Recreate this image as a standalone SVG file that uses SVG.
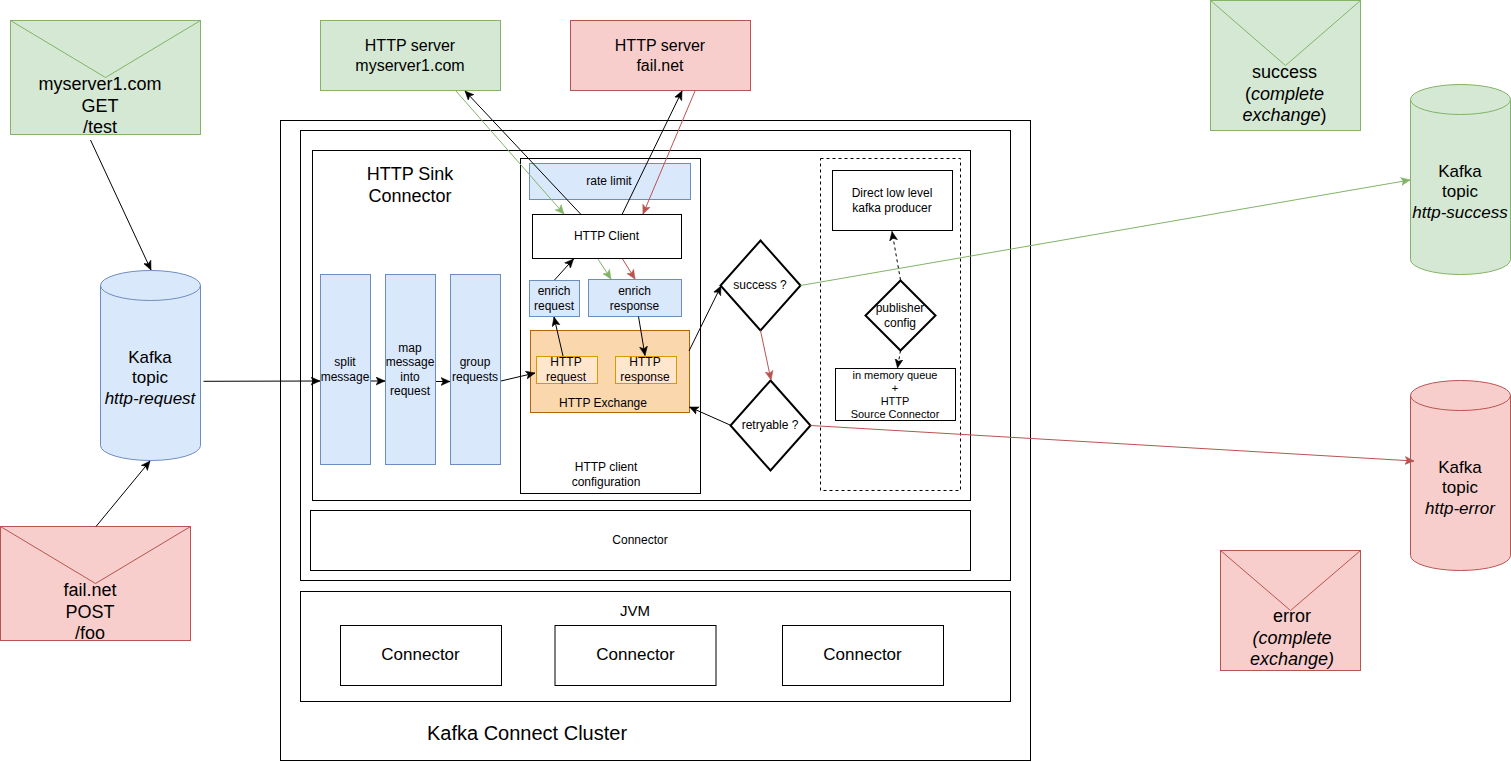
<svg xmlns="http://www.w3.org/2000/svg" width="1511" height="762" viewBox="0 0 1511 762">
<style>
text{font-family:"Liberation Sans",Arial,sans-serif;fill:#000;text-anchor:middle}
.t12{font-size:12px}.t11{font-size:11px}.t16{font-size:16px}.t17{font-size:17px}.t18{font-size:18px}.t15{font-size:15px}.t20{font-size:20px}
.i{font-style:italic}
.w{fill:#fff;stroke:#000;stroke-width:1}
.g{fill:#d5e8d4;stroke:#82b366}.r{fill:#f8cecc;stroke:#b85450}.b{fill:#dae8fc;stroke:#6c8ebf}
.o{fill:#fad7ac;stroke:#b46504}.lo{fill:#ffe6cc;stroke:#d79b00}
.d{fill:#fff;stroke:#000;stroke-width:2}
.c{fill:none;stroke:#000;stroke-width:1}
.cg{fill:none;stroke:#82b366;stroke-width:1}
.cr{fill:none;stroke:#b85450;stroke-width:1}
.nf{fill:none}
</style>
<defs>
<marker id="ab" markerUnits="userSpaceOnUse" markerWidth="12" markerHeight="10" refX="9" refY="4.500" orient="auto"><path d="M0 0.500L9 4.500L0 8.500L2.200 4.500Z" fill="#000" stroke="#000" stroke-width="0.500"/></marker>
<marker id="ag" markerUnits="userSpaceOnUse" markerWidth="12" markerHeight="10" refX="9" refY="4.500" orient="auto"><path d="M0 0.500L9 4.500L0 8.500L2.200 4.500Z" fill="#82b366" stroke="#82b366" stroke-width="0.500"/></marker>
<marker id="ar" markerUnits="userSpaceOnUse" markerWidth="12" markerHeight="10" refX="9" refY="4.500" orient="auto"><path d="M0 0.500L9 4.500L0 8.500L2.200 4.500Z" fill="#b85450" stroke="#b85450" stroke-width="0.500"/></marker>
</defs>
<g id="cluster"><rect class="w" x="280.500" y="120.500" width="750" height="640"/><text class="t20" x="527" y="740">Kafka Connect Cluster</text></g>
<g id="worker"><rect class="w" x="300.500" y="130.500" width="710" height="450"/></g>
<g id="sink"><rect class="w" x="312.500" y="150.500" width="658" height="350"/><text class="t18" x="410" y="180">HTTP Sink</text><text class="t18" x="410" y="202">Connector</text></g>
<g id="connector-main"><rect class="w" x="310.500" y="510.500" width="660" height="60"/><text class="t12" x="640" y="544">Connector</text></g>
<g id="jvm"><rect class="w" x="300.500" y="591.500" width="710" height="110"/><text class="t15" x="635" y="616">JVM</text></g>
<g id="connector-1"><rect class="w" x="340.500" y="625.500" width="161" height="60"/><text class="t17" x="420.500" y="660">Connector</text></g>
<g id="connector-2"><rect class="w" x="555" y="625.500" width="161" height="60"/><text class="t17" x="635.500" y="660">Connector</text></g>
<g id="connector-3"><rect class="w" x="782.500" y="625.500" width="161" height="60"/><text class="t17" x="862.500" y="660">Connector</text></g>
<g id="http-client-config"><rect class="w" x="520.500" y="158.500" width="180" height="335"/><text class="t12" x="606" y="471">HTTP client</text><text class="t12" x="606" y="486">configuration</text></g>
<g id="rate-limit"><rect class="b" x="529.500" y="163.500" width="161" height="36"/><text class="t12" x="609" y="185">rate limit</text></g>
<g id="http-client"><rect class="w" x="532.500" y="214.500" width="149" height="44"/><text class="t12" x="606.500" y="240">HTTP Client</text></g>
<g id="enrich-request"><rect class="b" x="529.500" y="280.500" width="50" height="36"/><text class="t12" x="554" y="295">enrich</text><text class="t12" x="554" y="310">request</text></g>
<g id="enrich-response"><rect class="b" x="588.500" y="279.500" width="93" height="37"/><text class="t12" x="634.500" y="295">enrich</text><text class="t12" x="634.500" y="310">response</text></g>
<g id="http-exchange"><rect class="o" x="530.500" y="330.500" width="159" height="82"/><text class="t12" x="603" y="407">HTTP Exchange</text></g>
<g id="http-request"><rect class="lo" x="536.500" y="356.500" width="61" height="27"/><text class="t12" x="566" y="366">HTTP</text><text class="t12" x="566" y="381">request</text></g>
<g id="http-response"><rect class="lo" x="615.500" y="356.500" width="61" height="27"/><text class="t12" x="645" y="366">HTTP</text><text class="t12" x="645" y="381">response</text></g>
<g id="split"><rect class="b" x="320.500" y="274.500" width="50" height="190"/><text class="t12" x="345" y="366">split</text><text class="t12" x="345" y="381">message</text></g>
<g id="map"><rect class="b" x="385.500" y="274.500" width="50" height="190"/><text class="t12" x="410" y="352">map</text><text class="t12" x="410" y="366">message</text><text class="t12" x="410" y="381">into</text><text class="t12" x="410" y="395">request</text></g>
<g id="group"><rect class="b" x="450.500" y="274.500" width="50" height="190"/><text class="t12" x="475" y="366">group</text><text class="t12" x="475" y="381">requests</text></g>
<g id="success-q"><path class="d" d="M760.500 240.500L800.500 285.500L760.500 330.500L720.500 285.500Z"/><text class="t12" x="760" y="289">success ?</text></g>
<g id="retryable-q"><path class="d" d="M770.500 380.500L810.500 425.500L770.500 470.500L730.500 425.500Z"/><text class="t12" x="770" y="429">retryable ?</text></g>
<g id="publisher-group"><rect x="820.500" y="158.500" width="140" height="332" fill="none" stroke="#000" stroke-dasharray="3 3"/></g>
<g id="producer"><rect class="w" x="832.500" y="170.500" width="120" height="60"/><text class="t12" x="892" y="197">Direct low level</text><text class="t12" x="892" y="212">kafka producer</text></g>
<g id="publisher-config"><path class="d" d="M900.500 280.500L935.500 315.500L900.500 350.500L865.500 315.500Z"/><text class="t12" x="900" y="312">publisher</text><text class="t12" x="900" y="327">config</text></g>
<g id="queue"><rect class="w" x="835.500" y="368.500" width="120" height="52"/><text class="t11" x="895" y="379">in memory queue</text><text class="t11" x="895" y="392">+</text><text class="t11" x="895" y="405">HTTP</text><text class="t11" x="895" y="418">Source Connector</text></g>
<g id="server-ok"><rect class="g" x="320.500" y="20.500" width="180" height="70"/><text class="t16" x="410" y="51">HTTP server</text><text class="t16" x="410" y="71">myserver1.com</text></g>
<g id="server-fail"><rect class="r" x="570.500" y="20.500" width="180" height="70"/><text class="t16" x="660" y="51">HTTP server</text><text class="t16" x="660" y="71">fail.net</text></g>
<g id="msg-get"><rect class="g" x="10.500" y="20.500" width="190" height="114"/><path class="g nf" d="M10.500 20.500L105.500 77.500L200.500 20.500"/><text class="t18" x="100" y="90">myserver1.com</text><text class="t18" x="100" y="112">GET</text><text class="t18" x="100" y="133">/test</text></g>
<g id="msg-post"><rect class="r" x="0.500" y="526.500" width="190" height="114"/><path class="r nf" d="M0.500 526.500L95.500 583.500L190.500 526.500"/><text class="t18" x="90" y="596">fail.net</text><text class="t18" x="90" y="618">POST</text><text class="t18" x="90" y="639">/foo</text></g>
<g id="msg-success"><rect class="g" x="1210.500" y="0.500" width="150" height="130"/><path class="g nf" d="M1210.500 0.500L1285.500 65.500L1360.500 0.500"/><text class="t18" x="1284.500" y="78">success</text><text class="t18" x="1284.500" y="100">(<tspan class="i">complete</tspan></text><text class="t18" x="1284.500" y="121"><tspan class="i">exchange</tspan>)</text></g>
<g id="msg-error"><rect class="r" x="1220.500" y="550.500" width="140" height="120"/><path class="r nf" d="M1220.500 550.500L1290.500 610.500L1360.500 550.500"/><text class="t18" x="1292" y="622">error</text><text class="t18 i" x="1292" y="644">(complete</text><text class="t18 i" x="1292" y="665">exchange)</text></g>
<g id="topic-request"><path class="b" d="M100.500 285.500A50 15 0 0 1 200.500 285.500V445.500A50 15 0 0 1 100.500 445.500Z"/><path class="b nf" d="M100.500 285.500A50 15 0 0 0 200.500 285.500"/><text class="t17" x="150" y="363">Kafka</text><text class="t17" x="150" y="383">topic</text><text class="t17 i" x="150" y="404">http-request</text></g>
<g id="topic-success"><path class="g" d="M1410.500 99.500A50 15 0 0 1 1510.500 99.500V259.500A50 15 0 0 1 1410.500 259.500Z"/><path class="g nf" d="M1410.500 99.500A50 15 0 0 0 1510.500 99.500"/><text class="t17" x="1460" y="177">Kafka</text><text class="t17" x="1460" y="197">topic</text><text class="t17 i" x="1460" y="218">http-success</text></g>
<g id="topic-error"><path class="r" d="M1410.500 395.500A50 15 0 0 1 1510.500 395.500V555.500A50 15 0 0 1 1410.500 555.500Z"/><path class="r nf" d="M1410.500 395.500A50 15 0 0 0 1510.500 395.500"/><text class="t17" x="1460" y="473">Kafka</text><text class="t17" x="1460" y="493">topic</text><text class="t17 i" x="1460" y="514">http-error</text></g>
<g id="connectors">
<path class="c" marker-end="url(#ab)" d="M90.500 140L151 270"/>
<path class="c" marker-end="url(#ab)" d="M96 526.500L150 461"/>
<path class="c" marker-end="url(#ab)" d="M203.500 381.300L320 381"/>
<path class="c" marker-end="url(#ab)" d="M371 381L385 381"/>
<path class="c" marker-end="url(#ab)" d="M436 381.500L450 381.500"/>
<path class="c" marker-end="url(#ab)" d="M501 381L535 373"/>
<path class="cg" marker-end="url(#ag)" d="M456 91L564 214"/>
<path class="c" marker-end="url(#ab)" d="M581 214.500L465 91"/>
<path class="c" marker-end="url(#ab)" d="M622 214.500L682 91"/>
<path class="cr" marker-end="url(#ar)" d="M695 91L643 214"/>
<path class="c" marker-end="url(#ab)" d="M554.500 280L573.500 259"/>
<path class="cg" marker-end="url(#ag)" d="M598 259L611 279"/>
<path class="cr" marker-end="url(#ar)" d="M622.500 259L635 279"/>
<path class="c" marker-end="url(#ab)" d="M563 356L554 317"/>
<path class="c" marker-end="url(#ab)" d="M638.500 316.500L645 355.500"/>
<path class="c" marker-end="url(#ab)" d="M689 351L721 286"/>
<path class="c" marker-end="url(#ab)" d="M730 425L689.500 407"/>
<path class="cr" marker-end="url(#ar)" d="M760.500 330.500L771 380"/>
<path class="cg" marker-end="url(#ag)" d="M800.500 285.500L1410 180"/>
<path class="cr" marker-end="url(#ar)" d="M810.500 425.500L1414 461"/>
<path class="c" stroke-dasharray="3 3" marker-end="url(#ab)" d="M900.500 280L892 231.500"/>
<path class="c" stroke-dasharray="3 3" marker-end="url(#ab)" d="M900.500 350.500L897.500 368"/>
</g>
</svg>
